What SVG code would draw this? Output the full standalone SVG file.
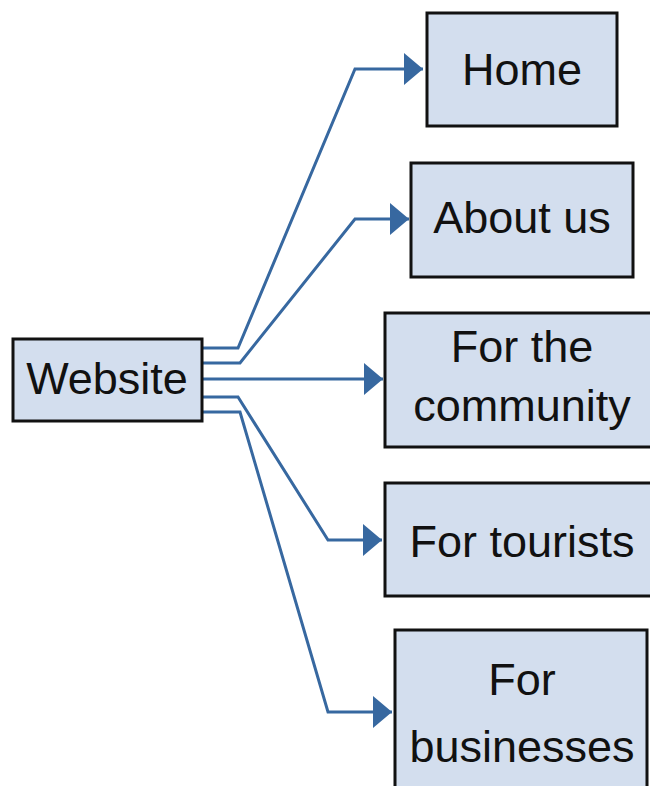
<svg xmlns="http://www.w3.org/2000/svg" width="650" height="786" viewBox="0 0 650 786">
  <style>
    .box { fill: #d3deee; stroke: #111; stroke-width: 3; }
    .lbl { font-family: "Liberation Sans", Arial, sans-serif; font-size: 45px; fill: #111; text-anchor: middle; }
    .link { fill: none; stroke: #3768a0; stroke-width: 3; stroke-linejoin: miter; }
  </style>
  <defs>
    <marker id="arrow" markerUnits="userSpaceOnUse" markerWidth="19" markerHeight="32" refX="19" refY="16" orient="auto">
      <path d="M0,0 L19,16 L0,32 z" fill="#3768a0"/>
    </marker>
  </defs>
  <rect width="650" height="786" fill="#fff"/>

  <g id="connectors">
    <path class="link" d="M202,348 H238 L355,69 H423" marker-end="url(#arrow)"/>
    <path class="link" d="M202,363 H240 L355,219 H409" marker-end="url(#arrow)"/>
    <path class="link" d="M202,379 H383" marker-end="url(#arrow)"/>
    <path class="link" d="M202,397 H238 L328,540 H382" marker-end="url(#arrow)"/>
    <path class="link" d="M202,412 H240 L328,712 H392" marker-end="url(#arrow)"/>
  </g>

  <g id="website">
    <rect class="box" x="13" y="339" width="189" height="82"/>
    <text class="lbl" x="107" y="394">Website</text>
  </g>
  <g id="home">
    <rect class="box" x="427" y="13" width="190" height="113"/>
    <text class="lbl" x="522" y="85">Home</text>
  </g>
  <g id="about">
    <rect class="box" x="411" y="163" width="222" height="114"/>
    <text class="lbl" x="522" y="233">About us</text>
  </g>
  <g id="community">
    <rect class="box" x="385" y="313" width="270" height="134"/>
    <text class="lbl" x="522" y="362">For the</text>
    <text class="lbl" x="522" y="421">community</text>
  </g>
  <g id="tourists">
    <rect class="box" x="385" y="483" width="270" height="113"/>
    <text class="lbl" x="522" y="557">For tourists</text>
  </g>
  <g id="businesses">
    <rect class="box" x="395" y="630" width="252" height="170"/>
    <text class="lbl" x="522" y="695">For</text>
    <text class="lbl" x="522" y="762">businesses</text>
  </g>
</svg>
